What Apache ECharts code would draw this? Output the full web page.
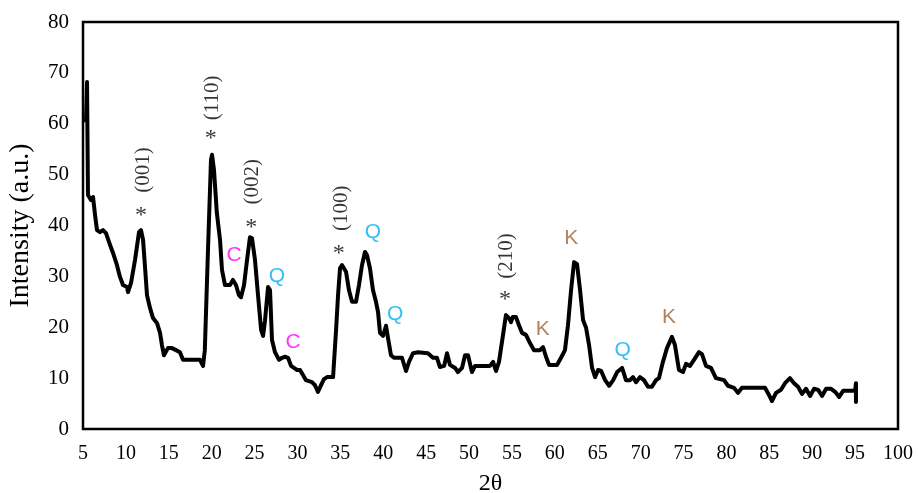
<!DOCTYPE html>
<html>
<head>
<meta charset="utf-8">
<script src="https://cdn.jsdelivr.net/npm/echarts@6/dist/echarts.min.js"></script>
<style>
  html, body { margin: 0; padding: 0; background: #fff; }
  #chart { width: 918px; height: 493px; }
</style>
</head>
<body>
<div id="chart"></div>
<script>
// XRD pattern, values
const twoTheta = [
  5.35,5.47,5.58,5.93,6.17,6.4,6.63,6.98,7.33,7.68,
  8.15,8.5,8.96,9.31,9.66,10.13,10.25,10.6,11.06,11.53,
  11.76,12.0,12.23,12.46,12.81,13.16,13.63,13.98,14.2,14.44,
  14.67,14.9,15.37,15.84,16.3,16.66,18.64,18.99,19.2,19.57,
  19.92,20.04,20.27,20.6,20.97,21.2,21.55,22.13,22.48,22.83,
  23.18,23.42,23.77,24.12,24.46,24.7,25.05,25.4,25.76,25.99,
  26.22,26.57,26.8,27.03,27.38,27.85,28.2,28.55,28.9,29.25,
  29.6,29.95,30.3,30.64,30.99,31.69,32.04,32.39,32.74,33.09,
  33.45,34.15,34.5,34.73,34.96,35.2,35.66,36.0,36.36,36.82,
  37.17,37.52,37.87,38.1,38.45,38.8,39.15,39.39,39.62,39.97,
  40.32,40.55,40.9,41.25,41.6,42.18,42.65,43.0,43.47,44.05,
  45.2,45.8,46.26,46.6,47.1,47.43,47.78,48.37,48.7,49.18,
  49.53,49.88,50.34,50.7,52.44,52.8,53.14,53.49,53.96,54.3,
  54.65,54.89,55.1,55.47,55.82,56.17,56.64,57.1,57.57,58.27,
  58.62,58.97,59.32,60.25,60.72,61.18,61.53,61.89,62.24,62.59,
  62.94,63.29,63.64,63.99,64.34,64.69,65.04,65.4,65.86,66.33,
  66.8,67.26,67.84,68.29,68.76,69.11,69.46,69.92,70.39,70.86,
  71.32,71.79,72.14,72.6,73.07,73.65,74.0,74.47,74.94,75.29,
  75.75,76.22,76.8,77.15,77.62,78.2,78.78,79.25,79.72,80.18,
  80.88,81.35,81.81,84.5,84.96,85.31,85.78,86.36,86.83,87.41,
  87.88,88.35,88.82,89.28,89.75,90.22,90.69,91.15,91.62,92.2,
  92.67,93.14,93.6,95.0,95.1,95.1,95.1
];
const intensity = [
  60.3,68.2,46.0,45.0,45.6,42.1,39.1,38.7,39.1,38.5,
  36.2,34.6,32.2,29.9,28.3,27.9,26.9,28.7,33.2,38.7,
  39.1,37.2,31.8,26.3,23.8,21.8,20.8,18.9,16.5,14.5,
  14.5,15.9,15.9,15.5,15.1,13.6,13.6,12.4,15.5,35.2,
  52.9,53.9,50.9,42.5,37.2,31.3,28.3,28.3,29.3,28.3,
  26.3,25.9,28.3,33.2,37.7,37.5,33.2,26.3,19.5,18.3,
  21.4,27.9,27.3,17.5,15.1,13.6,14.0,14.2,14.0,12.4,
  12.0,11.6,11.6,10.6,9.6,9.2,8.6,7.3,8.6,9.8,
  10.2,10.2,19.5,26.3,31.6,32.2,30.9,27.3,25.0,25.0,
  28.3,32.2,34.8,34.2,31.6,27.3,25.0,23.0,18.9,18.3,
  20.3,17.9,14.5,14.0,14.0,14.0,11.4,13.2,14.9,15.1,
  14.9,14.0,14.0,12.2,12.4,14.9,12.6,12.0,11.2,12.0,
  14.5,14.5,11.2,12.4,12.4,13.2,11.4,13.2,18.5,22.4,
  21.8,21.0,22.0,22.0,20.4,18.9,18.5,16.9,15.5,15.5,
  16.1,14.2,12.6,12.6,14.0,15.5,20.4,27.3,32.8,32.4,
  27.3,21.4,19.9,16.5,12.0,10.2,11.6,11.4,9.6,8.5,
  9.6,11.2,12.0,9.6,9.6,10.2,9.2,10.2,9.6,8.3,
  8.3,9.6,10.0,13.2,15.9,18.1,16.5,11.6,11.2,12.8,
  12.4,13.6,15.1,14.7,12.4,12.0,10.0,9.8,9.6,8.5,
  8.1,7.1,8.1,8.1,6.7,5.5,7.1,7.7,9.0,10.0,
  9.0,8.3,6.9,7.9,6.5,7.9,7.7,6.5,7.9,7.9,
  7.3,6.3,7.5,7.5,9.0,5.3,7.5
];

// peak labels (miller indices with asterisk)
const hklText = ['(001)', '(110)', '(002)', '(100)', '(210)'];
const starX = [11.76, 19.9, 24.6, 34.8, 54.2];
const starY = [42.0, 57.0, 39.5, 34.4, 25.5];
const hklX = [12.0, 20.15, 24.8, 35.1, 54.4];
const hklY = [50.9, 65.1, 48.6, 43.4, 34.0];

// phase letters
const phaseText = ['C', 'C', 'Q', 'Q', 'Q', 'Q', 'K', 'K', 'K'];
const phaseX = [22.6, 29.5, 27.6, 38.8, 41.4, 67.9, 61.9, 58.6, 73.3];
const phaseY = [34.2, 17.1, 30.1, 38.7, 22.6, 15.5, 37.5, 19.7, 22.0];
const phaseColor = { C: '#ff00ff', Q: '#00b0f0', K: '#9c6434' };

const serif = 'Liberation Serif, Times New Roman, serif';

const chart = echarts.init(document.getElementById('chart'));

const lineData = twoTheta.map((x, i) => [x, intensity[i]]);
const starData = starX.map((x, i) => [x, starY[i]]);
const hklData = hklX.map((x, i) => ({ value: [x, hklY[i]], name: hklText[i] }));
const phaseData = phaseX.map((x, i) => ({
  value: [x, phaseY[i]],
  name: phaseText[i],
  label: { color: phaseColor[phaseText[i]] }
}));

chart.setOption({
  animation: false,
  backgroundColor: '#fff',
  grid: {
    left: 83, right: 20, top: 22, bottom: 64,
    outerBoundsMode: 'none',
    containLabel: false,
    show: true,
    borderColor: '#000',
    borderWidth: 2.5,
    backgroundColor: 'transparent'
  },
  xAxis: {
    type: 'value',
    min: 5, max: 100, interval: 5,
    name: '2θ',
    nameLocation: 'middle',
    nameGap: 43,
    nameTextStyle: { fontFamily: serif, fontSize: 24, color: '#000' },
    axisLine: { show: false },
    axisTick: { show: false },
    splitLine: { show: false },
    axisLabel: { fontFamily: serif, fontSize: 20, color: '#000', margin: 15 }
  },
  yAxis: {
    type: 'value',
    min: 0, max: 80, interval: 10,
    name: 'Intensity (a.u.)',
    nameLocation: 'middle',
    nameGap: 48,
    nameTextStyle: { fontFamily: serif, fontSize: 28, color: '#000' },
    axisLine: { show: false },
    axisTick: { show: false },
    splitLine: { show: false },
    axisLabel: { fontFamily: serif, fontSize: 21, color: '#000', margin: 14 }
  },
  series: [
    {
      type: 'line',
      data: lineData,
      showSymbol: false,
      symbol: 'none',
      lineStyle: { color: '#000', width: 4, join: 'round' },
      z: 3
    },
    {
      type: 'scatter',
      data: starData,
      symbolSize: 0,
      label: {
        show: true, position: 'inside', formatter: '*',
        fontFamily: serif, fontSize: 24, color: '#000'
      },
      z: 4
    },
    {
      type: 'scatter',
      data: hklData,
      symbolSize: 0,
      label: {
        show: true, position: 'inside', formatter: '{b}', rotate: 90,
        fontFamily: serif, fontSize: 21, color: '#000'
      },
      z: 4
    },
    {
      type: 'scatter',
      data: phaseData,
      symbolSize: 0,
      label: {
        show: true, position: 'inside', formatter: '{b}',
        fontFamily: 'Liberation Sans, Arial, sans-serif', fontSize: 21
      },
      z: 4
    }
  ]
});
</script>
</body>
</html>
